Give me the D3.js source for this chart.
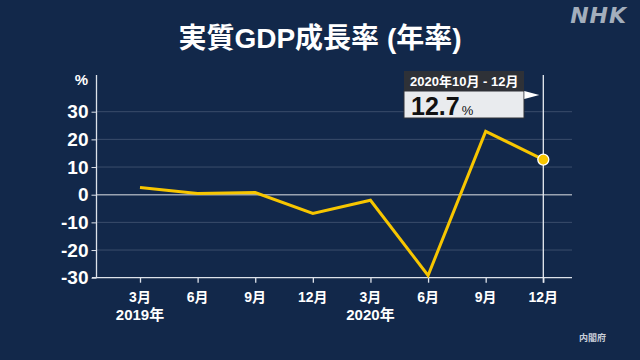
<!DOCTYPE html>
<html>
<head>
<meta charset="utf-8">
<script src="https://cdn.jsdelivr.net/npm/d3@7"></script>
<style>
  html, body { margin: 0; padding: 0; background: #12284a; }
  svg { display: block; }
  text { font-family: "Liberation Sans", "Noto Sans CJK JP", sans-serif; }
</style>
</head>
<body>
<div id="chart"></div>
<script>
// quarterly annualised real GDP growth, %
var quarters = ['2019-3', '2019-6', '2019-9', '2019-12', '2020-3', '2020-6', '2020-9', '2020-12']
var monthLabels = ['3月', '6月', '9月', '12月', '3月', '6月', '9月', '12月']
var yearLabels = ['2019年', '', '', '', '2020年', '', '', '']
var growth = [2.6, 0.4, 0.8, -6.8, -2.0, -29.2, 22.9, 12.7]
var yTicks = [30, 20, 10, 0, -10, -20, -30]

var width = 640, height = 360
var font = '"Liberation Sans", "Noto Sans CJK JP", sans-serif'

var svg = d3.select('#chart').append('svg')
  .attr('width', width)
  .attr('height', height)

svg.append('rect')
  .attr('width', width).attr('height', height)
  .attr('fill', '#12284a')

// title
svg.append('text')
  .attr('x', 320).attr('y', 48)
  .attr('text-anchor', 'middle')
  .attr('fill', '#ffffff')
  .style('font-size', '28px')
  .style('font-weight', 'bold')
  .text('実質GDP成長率 (年率)')

// logo
svg.append('text')
  .attr('x', 627).attr('y', 23)
  .attr('text-anchor', 'end')
  .attr('fill', '#a3aebc')
  .style('font-family', '"DejaVu Sans", sans-serif')
  .style('font-size', '22px')
  .style('font-weight', 'bold')
  .style('font-style', 'italic')
  .style('letter-spacing', '1px')
  .text('NHK')

svg.append('text')
  .attr('x', 606).attr('y', 341)
  .attr('text-anchor', 'end')
  .attr('fill', '#c8ced8')
  .style('font-size', '9px')
  .style('font-weight', 'bold')
  .text('内閣府')

var x = d3.scalePoint()
  .domain(quarters)
  .range([140, 543.3])

var y = d3.scaleLinear()
  .domain([-30, 30])
  .range([277.7, 111.7])

var plotLeft = 96.5, plotRight = 572, plotTop = 75

// grid lines
svg.append('g').selectAll('line')
  .data(yTicks.filter(function(d) { return d !== 0 && d !== -30 }))
  .enter().append('line')
  .attr('x1', plotLeft).attr('x2', plotRight)
  .attr('y1', function(d) { return y(d) }).attr('y2', function(d) { return y(d) })
  .attr('stroke', '#3a4d6b')
  .attr('stroke-width', 1)

svg.append('line')
  .attr('x1', plotLeft).attr('x2', plotRight)
  .attr('y1', y(0)).attr('y2', y(0))
  .attr('stroke', '#9aa3b1')
  .attr('stroke-width', 1.5)

// y axis
var yAxis = d3.axisLeft(y)
  .tickValues(yTicks)
  .tickSize(5)
  .tickPadding(3)
  .tickFormat(function(d) { return d })

var yg = svg.append('g')
  .attr('transform', 'translate(' + plotLeft + ',0)')
  .call(yAxis)
yg.select('.domain').remove()
yg.selectAll('.tick line').attr('stroke', '#dde2ea').attr('stroke-width', 1)
yg.selectAll('.tick text')
  .attr('fill', '#ffffff')
  .style('font-size', '19px')
  .style('font-weight', 'bold')
  .style('font-family', font)

svg.append('line')
  .attr('x1', plotLeft).attr('x2', plotLeft)
  .attr('y1', plotTop).attr('y2', y(-30))
  .attr('stroke', '#dde2ea').attr('stroke-width', 1.3)

svg.append('text')
  .attr('x', 88).attr('y', 85)
  .attr('text-anchor', 'end')
  .attr('fill', '#ffffff')
  .style('font-size', '15px')
  .style('font-weight', 'bold')
  .text('%')

// x axis
var xAxis = d3.axisBottom(x)
  .tickSize(5)
  .tickFormat('')

var xg = svg.append('g')
  .attr('transform', 'translate(0,' + y(-30) + ')')
  .call(xAxis)
xg.select('.domain').remove()
xg.selectAll('.tick line').attr('stroke', '#dde2ea').attr('stroke-width', 1.3)

svg.append('line')
  .attr('x1', 92).attr('x2', plotRight)
  .attr('y1', y(-30)).attr('y2', y(-30))
  .attr('stroke', '#dde2ea').attr('stroke-width', 1.3)

svg.append('g').selectAll('text')
  .data(quarters)
  .enter().append('text')
  .attr('x', function(d) { return x(d) })
  .attr('y', 302)
  .attr('text-anchor', 'middle')
  .attr('fill', '#ffffff')
  .style('font-size', '14px')
  .style('font-weight', 'bold')
  .text(function(d, i) { return monthLabels[i] })

svg.append('g').selectAll('text')
  .data(quarters)
  .enter().append('text')
  .attr('x', function(d) { return x(d) })
  .attr('y', 320)
  .attr('text-anchor', 'middle')
  .attr('fill', '#ffffff')
  .style('font-size', '15px')
  .style('font-weight', 'bold')
  .text(function(d, i) { return yearLabels[i] })

// marker line at latest quarter
var last = quarters[quarters.length - 1]
svg.append('line')
  .attr('x1', x(last)).attr('x2', x(last))
  .attr('y1', plotTop).attr('y2', y(-30) + 5)
  .attr('stroke', '#e8ecf2').attr('stroke-width', 1.3)

// data line
var line = d3.line()
  .x(function(d, i) { return x(quarters[i]) })
  .y(function(d) { return y(d) })

svg.append('path')
  .datum(growth)
  .attr('d', line)
  .attr('fill', 'none')
  .attr('stroke', '#f7c600')
  .attr('stroke-width', 3)
  .attr('stroke-linejoin', 'miter')

svg.append('circle')
  .attr('cx', x(last))
  .attr('cy', y(growth[growth.length - 1]))
  .attr('r', 5.5)
  .attr('fill', '#f7c600')
  .attr('stroke', '#ffffff')
  .attr('stroke-width', 1.3)

// callout box
var box = svg.append('g')
box.append('rect')
  .attr('x', 404).attr('y', 71)
  .attr('width', 120).attr('height', 21)
  .attr('fill', '#2e3137')
box.append('rect')
  .attr('x', 404).attr('y', 91)
  .attr('width', 120).attr('height', 27)
  .attr('fill', '#e9ebee')
  .attr('stroke', '#2e3137').attr('stroke-width', 1)
box.append('text')
  .attr('x', 410).attr('y', 86)
  .attr('fill', '#ffffff')
  .style('font-size', '13px')
  .style('font-weight', 'bold')
  .text('2020年10月 - 12月')
var val = box.append('text')
  .attr('x', 411).attr('y', 115)
  .attr('fill', '#111111')
  .style('font-weight', 'bold')
val.append('tspan')
  .style('font-size', '25px')
  .text(growth[growth.length - 1].toFixed(1))
val.append('tspan')
  .attr('dx', 2)
  .style('font-size', '13px')
  .style('font-weight', 'normal')
  .text('%')
box.append('path')
  .attr('d', 'M' + (x(last) - 19) + ',91 L' + (x(last) - 4) + ',95 L' + (x(last) - 19) + ',99 Z')
  .attr('fill', '#ffffff')
</script>
</body>
</html>
